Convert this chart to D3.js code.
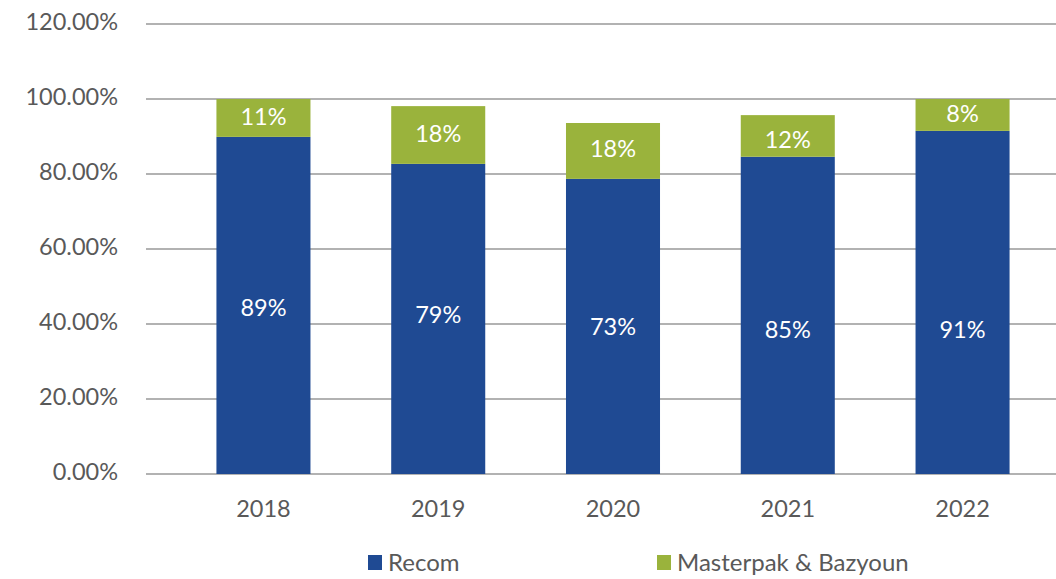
<!DOCTYPE html>
<html>
<head>
<meta charset="utf-8">
<script src="https://cdn.jsdelivr.net/npm/d3@7"></script>
<style>
  body { margin: 0; background: #fff; overflow: hidden; }
  svg { display: block; font-family: Lato, "Open Sans", sans-serif; }
</style>
</head>
<body>
<svg id="chart" width="1056" height="579"></svg>
<script>
// data
const years = ['2018', '2019', '2020', '2021', '2022']
const recom = [0.899, 0.827, 0.787, 0.846, 0.915]        // bar heights
const masterpak = [0.101, 0.154, 0.149, 0.111, 0.085]
const recomLabels = ['89%', '79%', '73%', '85%', '91%']
const masterpakLabels = ['11%', '18%', '18%', '12%', '8%']
// where the labels sit, in chart units (they are not always centred in the segment)
const recomLabelAt = [0.445, 0.424, 0.392, 0.385, 0.385]
const masterpakLabelAt = [0.953, 0.907, 0.869, 0.892, 0.961]
const yTicks = [0, 0.2, 0.4, 0.6, 0.8, 1.0, 1.2]
const seriesNames = ['Recom', 'Masterpak & Bazyoun']

const svg = d3.select('#chart')
const blue = '#1f4a93'
const green = '#9ab33c'
const textColor = '#595959'

const xScale = d3.scaleBand().domain(years).range([146, 1080]).paddingInner(0.462).paddingOuter(0.403)
const yScale = d3.scaleLinear().domain([0, 1.2]).range([474, 24])

// gridlines
svg.append('g').selectAll('line')
  .data(yTicks)
  .enter()
  .append('line')
  .attr('x1', 146).attr('x2', 1080)
  .attr('y1', d => yScale(d)).attr('y2', d => yScale(d))
  .attr('stroke', '#999').attr('stroke-width', 1.3)

// y axis labels
const yAxis = d3.axisLeft(yScale).tickValues(yTicks).tickFormat(d => (d * 100).toFixed(2) + '%').tickSize(0).tickPadding(28)
const yAxisGroup = svg.append('g').attr('transform', 'translate(146, 0)').call(yAxis)
yAxisGroup.select('.domain').remove()
yAxisGroup.selectAll('text').attr('font-size', 23.5).attr('fill', textColor).attr('font-family', 'Lato, sans-serif')
  .attr('dy', '0.22em')

// x axis labels
const xAxis = d3.axisBottom(xScale).tickSize(0).tickPadding(26)
const xAxisGroup = svg.append('g').attr('transform', 'translate(0, 474)').call(xAxis)
xAxisGroup.select('.domain').remove()
xAxisGroup.selectAll('text').attr('font-size', 23.5).attr('fill', textColor).attr('font-family', 'Lato, sans-serif')

// stacked bars
const bars = svg.append('g')
bars.selectAll('rect.recom')
  .data(recom)
  .enter()
  .append('rect')
  .attr('x', (d, i) => xScale(years[i]))
  .attr('width', xScale.bandwidth())
  .attr('y', d => yScale(d))
  .attr('height', d => yScale(0) - yScale(d))
  .attr('fill', blue)

bars.selectAll('rect.masterpak')
  .data(masterpak)
  .enter()
  .append('rect')
  .attr('x', (d, i) => xScale(years[i]))
  .attr('width', xScale.bandwidth())
  .attr('y', (d, i) => yScale(recom[i] + d))
  .attr('height', (d, i) => yScale(recom[i]) - yScale(recom[i] + d))
  .attr('fill', green)

// value labels
bars.selectAll('text.recom')
  .data(recomLabels)
  .enter()
  .append('text')
  .attr('x', (d, i) => xScale(years[i]) + xScale.bandwidth() / 2)
  .attr('y', (d, i) => yScale(recomLabelAt[i]))
  .attr('dy', '0.36em')
  .attr('text-anchor', 'middle')
  .attr('font-size', 23.5)
  .attr('fill', '#fff')
  .text(d => d)

bars.selectAll('text.masterpak')
  .data(masterpakLabels)
  .enter()
  .append('text')
  .attr('x', (d, i) => xScale(years[i]) + xScale.bandwidth() / 2)
  .attr('y', (d, i) => yScale(masterpakLabelAt[i]))
  .attr('dy', '0.36em')
  .attr('text-anchor', 'middle')
  .attr('font-size', 23.5)
  .attr('fill', '#fff')
  .text(d => d)

// legend
const legendX = [368, 657]
const legend = svg.append('g')
seriesNames.forEach((name, i) => {
  legend.append('rect').attr('x', legendX[i]).attr('y', 555).attr('width', 14).attr('height', 15)
    .attr('fill', i == 0 ? blue : green)
  legend.append('text').attr('x', legendX[i] + 20).attr('y', 562).attr('dy', '0.36em')
    .attr('font-size', 24).attr('fill', textColor).text(name)
})
</script>
</body>
</html>
